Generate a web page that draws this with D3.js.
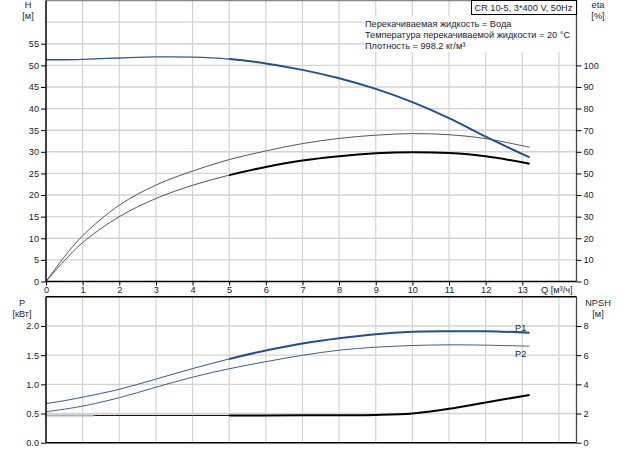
<!DOCTYPE html>
<html><head><meta charset="utf-8">
<script src="https://cdn.jsdelivr.net/npm/d3@7"></script>
<style>
body{margin:0;background:#fff;}
svg{display:block;font-family:"Liberation Sans",Arial,sans-serif;}
text{fill:#1c1c30;font-size:9.2px;}
</style></head><body>
<svg id="c" width="622" height="450"></svg>
<script>
// ---- data ----
const Q      = [0,0.5,1,2,3,4,5,6,7,8,9,10,11,12,13.2];
const H      = [51.3,51.3,51.4,51.7,51.95,51.9,51.45,50.45,48.95,47.0,44.55,41.5,37.8,33.5,28.7];
const etaP   = [0,9.6,18,30,38.4,44.5,49.2,53,56,58,59.3,59.8,59.4,57.9,54.5];
const etaT   = [0,11.4,21.2,35.3,44.6,51.1,56.4,60.4,63.8,66.2,67.7,68.4,67.9,66.1,62.1];
const P1     = [0.67,0.72,0.78,0.915,1.09,1.27,1.435,1.58,1.70,1.79,1.86,1.90,1.91,1.91,1.885];
const P2     = [0.53,0.575,0.627,0.771,0.95,1.123,1.267,1.388,1.498,1.585,1.636,1.665,1.677,1.671,1.654];
const NPSH   = [1.87,1.87,1.87,1.87,1.87,1.87,1.87,1.87,1.875,1.88,1.90,2.0,2.32,2.76,3.27];
const qTicks   = [0,1,2,3,4,5,6,7,8,9,10,11,12,13];
const hTicks   = [0,5,10,15,20,25,30,35,40,45,50,55];
const etaTicks = [0,10,20,30,40,50,60,70,80,90,100];
const pTicks   = [0,0.5,1.0,1.5,2.0];
const nTicks   = [0,2,4,6,8];
const title = "CR 10-5, 3*400 V, 50Hz";
const infoLines = ["Перекачиваемая жидкость = Вода","Температура перекачиваемой жидкости = 20 °C","Плотность = 998.2 кг/м³"];

// ---- layout ----
const L=46, R=576.5;
const svg=d3.select("#c");
const x=d3.scaleLinear().domain([0,14.48]).range([L,R]);
const yH=d3.scaleLinear().domain([0,65]).range([281.5,0.5]);
const yE=d3.scaleLinear().domain([0,130]).range([281.5,0.5]);
const yP=d3.scaleLinear().domain([0,2.5]).range([442.7,296.8]);
const yN=d3.scaleLinear().domain([0,10]).range([442.7,296.8]);
const grid="#d3d3d3";

function gridLines(yScale, vals, top, bot){
  const g=svg.append("g");
  g.selectAll(".v").data(d3.range(1,15)).join("line")
    .attr("x1",d=>x(d)).attr("x2",d=>x(d)).attr("y1",top).attr("y2",bot)
    .attr("stroke",grid).attr("stroke-width",1.2);
  g.selectAll(".h").data(vals).join("line")
    .attr("x1",L).attr("x2",R).attr("y1",d=>yScale(d)).attr("y2",d=>yScale(d))
    .attr("stroke",grid).attr("stroke-width",1.4);
}
gridLines(yH,[5,10,15,20,25,30,35,40,45,50,55,60],0,281.5);
gridLines(yP,[0.5,1.0,1.5,2.0],296.8,442.7);

// white info background
svg.append("rect").attr("x",364).attr("y",16).attr("width",R-364).attr("height",36).attr("fill","#fff");

function curve(ys,ysc,from,to,color,w){
  const all=Q.map((q,i)=>[q,ys[i]]);
  const line=d3.line().x(d=>x(d[0])).y(d=>ysc(d[1])).curve(d3.curveCatmullRom.alpha(0.5));
  const id="clip"+Math.random().toString(36).slice(2);
  svg.append("clipPath").attr("id",id).append("rect")
    .attr("x",x(from)).attr("y",0).attr("width",x(to)-x(from)+2).attr("height",450);
  svg.append("path").attr("d",line(all)).attr("fill","none")
    .attr("stroke",color).attr("stroke-width",w).attr("clip-path",`url(#${id})`);
}
// top curves
curve(etaT,yE,0,13.2,"#555",1);
curve(etaP,yE,0,5,"#555",1);
curve(etaP,yE,5,13.2,"#000",2);
curve(H,yH,0,5,"#2c5a94",1.3);
curve(H,yH,5,13.2,"#1f5191",2);
// bottom curves
curve(P2,yP,0,13.2,"#3d5f8e",1);
curve(P1,yP,0,5,"#2c5a94",1);
curve(P1,yP,5,13.2,"#1f5191",2);
{
  const line=d3.line().x(d=>x(d[0])).y(d=>yN(d[1]));
  svg.append("path").attr("d",line([[0,NPSH[0]],[1.3,NPSH[0]]])).attr("fill","none").attr("stroke","#b0b0b0").attr("stroke-width",2);
}
curve(NPSH,yN,1.3,5,"#000",1);
curve(NPSH,yN,5,13.2,"#000",2);

// frames
function frame(top,bot){
  svg.append("line").attr("x1",L).attr("x2",R).attr("y1",top).attr("y2",top).attr("stroke",top<1?"#888":"#000").attr("stroke-width",1.5);
  svg.append("line").attr("x1",L).attr("x2",L).attr("y1",top).attr("y2",bot).attr("stroke","#000").attr("stroke-width",1.5);
  svg.append("line").attr("x1",R).attr("x2",R).attr("y1",top).attr("y2",bot).attr("stroke","#444").attr("stroke-width",1.3);
  svg.append("line").attr("x1",L).attr("x2",R).attr("y1",bot).attr("y2",bot).attr("stroke","#000").attr("stroke-width",1.5);
}
frame(0.5,281.5);
frame(296.8,442.7);

// axes
function styleAxis(g){ g.select(".domain").remove(); g.selectAll(".tick line").attr("stroke","#000"); g.selectAll(".tick text").attr("font-size",9.6).attr("fill","#1c1c30").attr("font-family",null); }
svg.append("g").attr("transform",`translate(${L},0)`).call(d3.axisLeft(yH).tickValues(hTicks).tickSize(5).tickPadding(2).tickFormat(d3.format("d"))).call(styleAxis);
svg.append("g").attr("transform",`translate(${R},0)`).call(d3.axisRight(yE).tickValues(etaTicks).tickSize(5).tickPadding(2).tickFormat(d3.format("d"))).call(styleAxis);
svg.append("g").attr("transform",`translate(0,281.5)`).call(d3.axisBottom(x).tickValues(qTicks).tickSize(4).tickPadding(1).tickFormat(d3.format("d"))).call(styleAxis);
svg.append("g").attr("transform",`translate(${L},0)`).call(d3.axisLeft(yP).tickValues(pTicks).tickSize(5).tickPadding(2).tickFormat(d3.format(".1f"))).call(styleAxis);
svg.append("g").attr("transform",`translate(${R},0)`).call(d3.axisRight(yN).tickValues(nTicks).tickSize(5).tickPadding(2).tickFormat(d3.format("d"))).call(styleAxis);

// labels
const T=(t,xx,yy,anchor="middle",col)=>svg.append("text").attr("x",xx).attr("y",yy).attr("text-anchor",anchor).attr("fill",col||"#1c1c30").text(t);
T("H",28,8); T("[м]",28,19);
T("eta",598,8); T("[%]",598,19);
T("P",22,306); T("[кВт]",22,317);
T("NPSH",598,306); T("[м]",598,317);
T("Q [м³/ч]",541,293,"start");
T("P1",515,331,"start","#1f5fa0");
T("P2",515,357,"start","#1f5fa0");

// title box
svg.append("rect").attr("x",471.5).attr("y",0.5).attr("width",R-471.5).attr("height",14).attr("fill","#fff").attr("stroke","#000").attr("stroke-width",1);
T(title,474.5,11,"start");
infoLines.forEach((s,i)=>T(s,365,27+i*11,"start"));
</script></body></html>
